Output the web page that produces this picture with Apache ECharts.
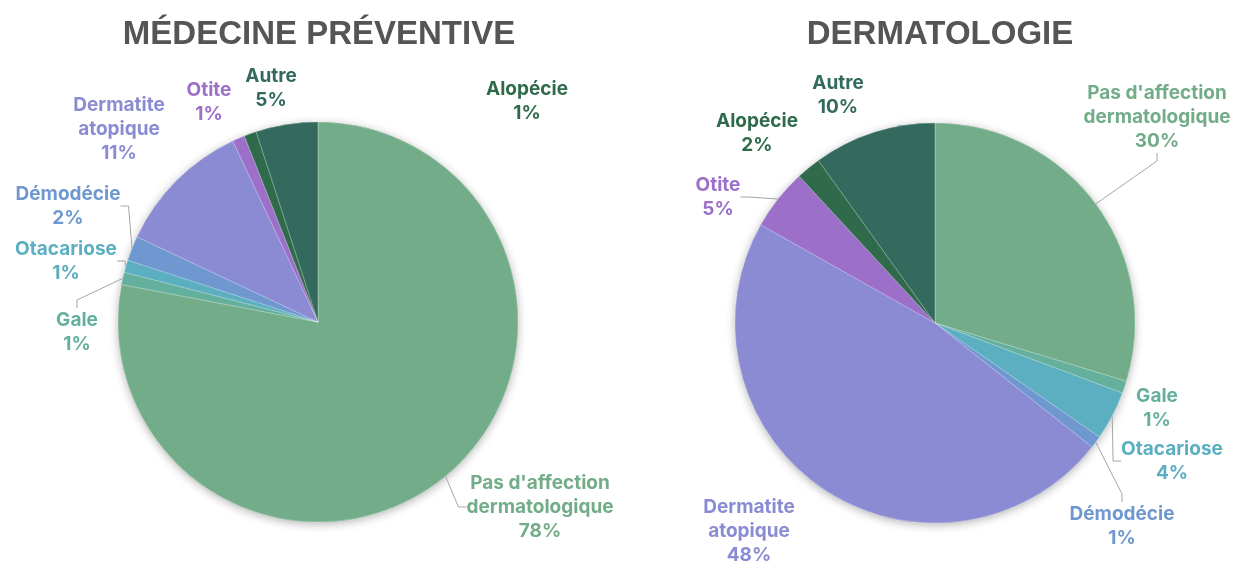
<!DOCTYPE html>
<html>
<head>
<meta charset="utf-8">
<title>Médecine préventive / Dermatologie</title>
<script src="https://cdn.jsdelivr.net/npm/echarts@6/dist/echarts.min.js"></script>
<style>
  html, body { margin: 0; padding: 0; background: #fff; }
  #main { width: 1235px; height: 566px; }
</style>
</head>
<body>
<div id="main"></div>
<script>
// categories, in clockwise order from 12 o'clock
var categories = ['Pas d\'affection\ndermatologique', 'Gale', 'Otacariose', 'Démodécie',
  'Dermatite\natopique', 'Otite', 'Alopécie', 'Autre'];
var colors = ['#72ac88', '#64b09d', '#5cafc0', '#6e98cf', '#8b8bd3', '#9c6fc8', '#2f6b4b', '#336a5d'];

// % of cases
var preventiveValues = [78, 1, 1, 2, 11, 1, 1, 5];
var dermatoValues = [30, 1, 4, 1, 48, 5, 2, 10];

var titles = ['MÉDECINE PRÉVENTIVE', 'DERMATOLOGIE'];

// where each label sits (text centre) and whether it gets a leader line
var preventiveLabels = [
  [540, 507, true], [77, 332, true], [66, 261, true], [68, 206, true],
  [119, 129, false], [209, 102, false], [527, 101, false], [271, 88, false]
];
var dermatoLabels = [
  [1157, 117, true], [1157, 408, false], [1172, 461, true], [1122, 526, true],
  [749, 531, false], [718, 197, true], [757, 133, false], [838, 95, false]
];

function buildData(values, labels) {
  return values.map(function (v, i) {
    return {
      name: categories[i],
      value: v,
      itemStyle: { color: colors[i] },
      labelLine: { show: labels ? labels[i][2] : false }
    };
  });
}

function layoutFrom(labels) {
  return function (params) {
    var p = labels[params.dataIndex];
    return { x: p[0], y: p[1], align: 'center', verticalAlign: 'middle' };
  };
}

function pies(values, labels, center) {
  return [
    // soft shadow underneath
    {
      type: 'pie',
      center: center,
      radius: 200,
      startAngle: 90,
      silent: true,
      z: 1,
      label: { show: false },
      labelLine: { show: false },
      itemStyle: { shadowBlur: 10, shadowColor: 'rgba(0,0,0,0.3)', shadowOffsetY: 2 },
      data: buildData(values, null)
    },
    {
      type: 'pie',
      center: center,
      radius: 200,
      startAngle: 90,
      z: 2,
      animation: false,
      avoidLabelOverlap: false,
      itemStyle: { borderColor: 'rgba(255,255,255,0.45)', borderWidth: 0.6 },
      label: {
        show: true,
        formatter: '{b}\n{c}%',
        color: 'inherit',
        fontFamily: 'Inter',
        fontWeight: 'bold',
        fontSize: 19,
        lineHeight: 24,
        align: 'center'
      },
      labelLine: {
        length: 10,
        length2: 8,
        lineStyle: { color: '#a6a6a6', width: 1 }
      },
      labelLayout: layoutFrom(labels),
      data: buildData(values, labels)
    }
  ];
}

var myChart = echarts.init(document.getElementById('main'));
myChart.setOption({
  animation: false,
  title: [
    {
      text: titles[0], left: 314, top: 13, textAlign: 'center',
      textStyle: { fontFamily: 'Liberation Sans', fontWeight: 'bold', fontSize: 33, color: '#555555' }
    },
    {
      text: titles[1], left: 935, top: 13, textAlign: 'center',
      textStyle: { fontFamily: 'Liberation Sans', fontWeight: 'bold', fontSize: 33, color: '#555555' }
    }
  ],
  series: pies(preventiveValues, preventiveLabels, [318, 322])
    .concat(pies(dermatoValues, dermatoLabels, [935, 323]))
});
</script>
</body>
</html>
